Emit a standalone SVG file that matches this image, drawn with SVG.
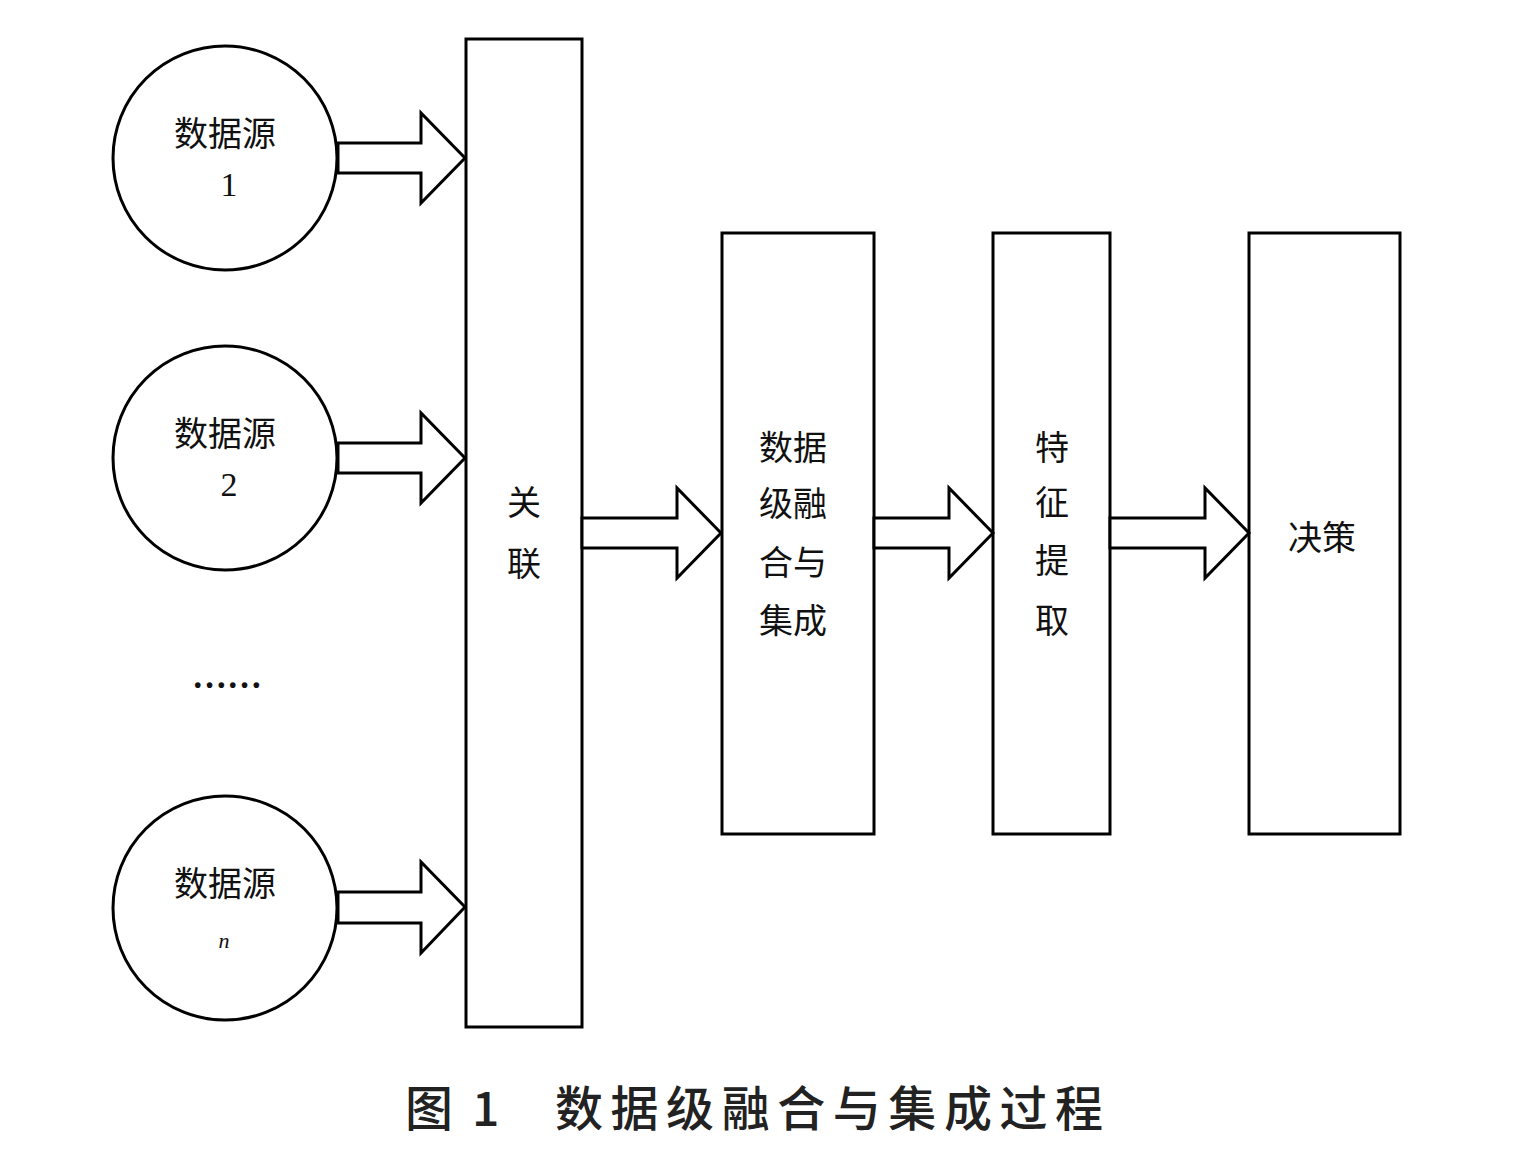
<svg xmlns="http://www.w3.org/2000/svg" width="1516" height="1160" viewBox="0 0 1516 1160">
<style>
.s{fill:#fff;stroke:#000;stroke-width:3}
.a{fill:#fff;stroke:#000;stroke-width:3;stroke-linejoin:miter}
.t{font-family:"Noto Sans CJK SC","Liberation Serif",sans-serif;font-size:34px;fill:#111;text-anchor:middle}
.n{font-family:"Liberation Serif",serif;font-size:34px;fill:#111;text-anchor:middle}
.c{font-family:"Noto Sans CJK SC",sans-serif;font-size:48px;font-weight:500;fill:#222}
</style>
<rect width="1516" height="1160" fill="#fff"/>
<g id="src1">
<circle class="s" cx="225" cy="158" r="112"/>
<text class="t" x="225" y="146">数据源</text>
<text class="n" x="229" y="196">1</text>
</g>
<g id="src2">
<circle class="s" cx="225" cy="458" r="112"/>
<text class="t" x="225" y="446">数据源</text>
<text class="n" x="229" y="496">2</text>
</g>
<g id="dots">
<text class="n" x="227" y="688" style="font-size:35px;font-weight:bold">……</text>
</g>
<g id="srcn">
<circle class="s" cx="225" cy="908" r="112"/>
<text class="t" x="225" y="896">数据源</text>
<text class="n" x="224" y="948" style="font-style:italic;font-size:22px">n</text>
</g>
<g id="assoc">
<rect class="s" x="466" y="39" width="116" height="988"/>
<text class="t" x="524" y="515">关</text>
<text class="t" x="524" y="576">联</text>
</g>
<g id="fusion">
<rect class="s" x="722" y="233" width="152" height="601"/>
<text class="t" x="793" y="460">数据</text>
<text class="t" x="793" y="516">级融</text>
<text class="t" x="793" y="575">合与</text>
<text class="t" x="793" y="633">集成</text>
</g>
<g id="feature">
<rect class="s" x="993" y="233" width="117" height="601"/>
<text class="t" x="1052" y="460">特</text>
<text class="t" x="1052" y="515">征</text>
<text class="t" x="1052" y="573">提</text>
<text class="t" x="1052" y="633">取</text>
</g>
<g id="decision">
<rect class="s" x="1249" y="233" width="151" height="601"/>
<text class="t" x="1322" y="550">决策</text>
</g>
<g id="connectors">
<polygon class="a" points="338,143 421,143 421,113 465,158 421,203 421,173 338,173"/>
<polygon class="a" points="338,443 421,443 421,413 465,458 421,503 421,473 338,473"/>
<polygon class="a" points="338,892 421,892 421,862 465,907 421,953 421,923 338,923"/>
<polygon class="a" points="582,518 677,518 677,488 721,533 677,578 677,548 582,548"/>
<polygon class="a" points="874,518 949,518 949,488 993,533 949,578 949,548 874,548"/>
<polygon class="a" points="1110,518 1205,518 1205,488 1249,533 1205,578 1205,548 1110,548"/>
</g>
<g id="caption">
<text class="c" x="405" y="1126">图</text>
<text class="c" x="472" y="1126">1</text>
<text class="c" x="555" y="1126" textLength="548" lengthAdjust="spacing">数据级融合与集成过程</text>
</g>
</svg>
